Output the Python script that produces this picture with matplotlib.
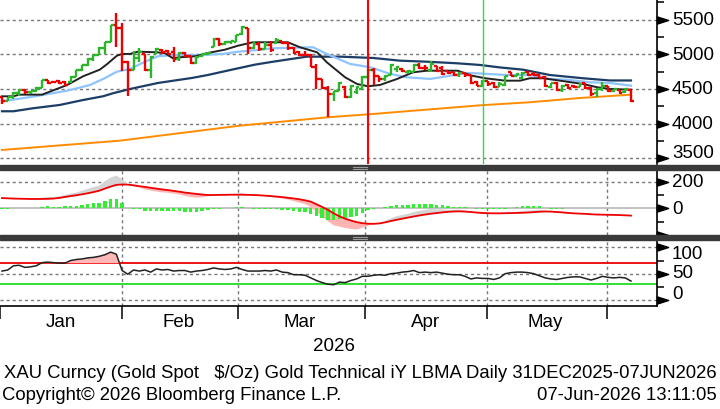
import matplotlib
matplotlib.use("Agg")
import matplotlib.pyplot as plt
import matplotlib.transforms as mtransforms
import numpy as np
from matplotlib.patches import Rectangle
from matplotlib.lines import Line2D
from matplotlib.path import Path

plt.rcParams['font.family'] = ['Liberation Sans', 'DejaVu Sans']

# XAU daily bars, 31 Dec 2025 - 05 Jun 2026 (trading days)
opens = [4380, 4330, 4380, 4440, 4490, 4450, 4465, 4510, 4625, 4600,
         4620, 4600, 4600, 4670, 4770, 4840, 4940, 4990, 5095, 5180,
         5420, 5380, 4890, 4780, 4945, 5000, 4775, 5010, 5070, 5050,
         5040, 4940, 5020, 4970, 4870, 4970, 5000, 5110, 5220, 5150,
         5180, 5180, 5290, 5380, 5090, 5150, 5080, 5140, 5160, 5190,
         5160, 5090, 5030, 4990, 4990, 4820, 4645, 4510, 4430, 4470,
         4530, 4380, 4450, 4500, 4670, 4780, 4690, 4640, 4700, 4790,
         4790, 4745, 4745, 4850, 4810, 4770, 4828, 4800, 4760, 4740,
         4700, 4730, 4700, 4600, 4550, 4620, 4590, 4530, 4560, 4740,
         4690, 4660, 4740, 4720, 4700, 4680, 4530, 4580, 4490, 4560,
         4550, 4530, 4580, 4520, 4440, 4500, 4540, 4470, 4490, 4450,
         4490]
highs = [4389, 4389, 4452, 4500, 4500, 4475, 4524, 4630, 4630, 4620,
         4630, 4620, 4683, 4775, 4851, 4943, 4996, 5102, 5183, 5425,
         5598, 5454, 4900, 5054, 5088, 5006, 4972, 5088, 5078, 5060,
         5102, 5040, 5030, 4972, 4972, 5006, 5030, 5232, 5232, 5198,
         5198, 5280, 5415, 5380, 5198, 5183, 5174, 5198, 5232, 5198,
         5174, 5102, 5054, 5054, 5006, 4861, 4645, 4539, 4476, 4596,
         4545, 4558, 4539, 4683, 4790, 4800, 4692, 4702, 4861, 4837,
         4800, 4770, 4861, 4876, 4846, 4900, 4828, 4828, 4765, 4750,
         4750, 4731, 4700, 4620, 4630, 4620, 4606, 4596, 4693, 4750,
         4731, 4741, 4765, 4750, 4717, 4683, 4587, 4596, 4558, 4572,
         4558, 4587, 4587, 4524, 4510, 4596, 4545, 4500, 4490, 4510,
         4490]
lows = [4283, 4322, 4355, 4403, 4433, 4433, 4452, 4510, 4572, 4590,
        4572, 4548, 4590, 4669, 4765, 4837, 4909, 4985, 5006, 5175,
        5111, 4765, 4403, 4780, 4885, 4765, 4659, 5006, 5006, 5000,
        4885, 4909, 4958, 4861, 4861, 4965, 4990, 5102, 5126, 5140,
        5150, 5174, 5280, 5006, 5078, 5054, 5078, 5030, 5150, 5150,
        5068, 5006, 4972, 4972, 4813, 4500, 4500, 4091, 4331, 4465,
        4365, 4365, 4428, 4500, 4640, 4558, 4606, 4620, 4700, 4741,
        4741, 4717, 4741, 4789, 4779, 4750, 4750, 4702, 4717, 4683,
        4669, 4669, 4572, 4539, 4524, 4539, 4514, 4524, 4548, 4683,
        4683, 4645, 4693, 4693, 4654, 4524, 4510, 4476, 4461, 4500,
        4510, 4524, 4500, 4404, 4380, 4476, 4452, 4461, 4428, 4437,
        4317]
closes = [4320, 4380, 4440, 4490, 4450, 4470, 4510, 4625, 4590, 4595,
          4590, 4560, 4670, 4770, 4840, 4940, 4990, 5095, 5180, 5420,
          5380, 4890, 4780, 4945, 5030, 4775, 4960, 5080, 5030, 5010,
          4940, 5020, 4975, 4870, 4965, 5000, 5025, 5220, 5150, 5185,
          5190, 5275, 5390, 5088, 5150, 5080, 5140, 5060, 5210, 5160,
          5090, 5020, 4990, 4985, 4820, 4645, 4510, 4430, 4470, 4580,
          4380, 4540, 4530, 4670, 4780, 4690, 4640, 4690, 4840, 4820,
          4760, 4760, 4850, 4800, 4800, 4860, 4760, 4720, 4730, 4700,
          4730, 4700, 4590, 4550, 4620, 4572, 4530, 4570, 4683, 4690,
          4720, 4735, 4700, 4700, 4665, 4545, 4580, 4490, 4540, 4510,
          4535, 4575, 4510, 4430, 4500, 4540, 4470, 4495, 4440, 4500,
          4320]

# moving averages (bar index, price)
fast_idx = [0, 2, 3, 7, 11.4, 14.2, 17.1, 18.4, 20.1, 21, 22.4, 23.8, 27.1, 28.5, 29.9,
            31.1, 33.8, 36, 39, 41.3, 43.9, 50, 52.1, 55.1, 56.8, 60, 62.1, 64, 66.1,
            69.1, 71.9, 74.3, 79.7, 82.2, 84.5, 88, 90.6, 92.3, 94.6, 97.6, 101.6,
            104.1, 106.3, 110]
fast_val = [4394, 4394, 4418, 4418, 4558, 4684, 4779, 4861, 4981, 5006, 5006, 5039, 5030,
            5016, 4944, 4958, 4973, 5020, 5068, 5126, 5175, 5175, 5103, 5030, 4886, 4669,
            4572, 4539, 4558, 4645, 4741, 4764, 4764, 4692, 4655, 4620, 4620, 4655, 4655,
            4620, 4572, 4525, 4500, 4490]
mid_idx = [0, 5.4, 11.4, 15.4, 17.7, 20.1, 22.4, 25, 27.3, 30.3, 35, 38.5, 41.3, 44.2,
           47.4, 54.4, 56.8, 60.9, 64.4, 67.9, 70.8, 74.9, 77.8, 81.3, 83.6, 88, 92.3,
           95.8, 98.8, 102.8, 106.3, 110]
mid_val = [4322, 4389, 4475, 4558, 4645, 4750, 4789, 4894, 4973, 4991, 4991, 5006, 5039,
           5059, 5088, 5103, 5006, 4861, 4814, 4717, 4669, 4645, 4684, 4731, 4724, 4702,
           4702, 4645, 4634, 4597, 4587, 4548]
slow_idx = [0, 2, 5.4, 10.1, 14.2, 17.7, 19.4, 22.4, 27.3, 33.2, 36, 40.2, 44.2, 47.4,
            53.3, 59.1, 64.9, 69.6, 74.3, 79.6, 83.6, 87.1, 91.1, 95.8, 101.6, 106.3, 110]
slow_val = [4178, 4178, 4221, 4269, 4341, 4395, 4438, 4500, 4587, 4659, 4702, 4779, 4851,
            4894, 4967, 4967, 4948, 4909, 4894, 4871, 4847, 4811, 4779, 4702, 4655, 4623, 4623]
long_idx = [0, 20.6, 41.6, 57, 64.9, 83.6, 92.3, 101.1, 110]
long_val = [3619, 3753, 3970, 4091, 4139, 4264, 4308, 4370, 4418]

# MACD signal line and histogram
macd_signal = [77, 75, 73, 72, 71, 70, 70, 70, 71, 73,
               78, 85, 92, 98, 105, 113, 122, 132, 148, 163,
               176, 179, 178, 173, 166, 161, 154, 148, 142, 137,
               131, 125, 118, 113, 108, 103, 100, 100, 101, 101,
               102, 102, 102, 101, 100, 98, 95, 92, 88, 84,
               79, 74, 68, 60, 50, 30, 10, -12, -38, -60,
               -78, -92, -104, -112, -116, -117, -114, -106, -96, -87,
               -78, -70, -62, -54, -47, -41, -36, -31, -27, -24,
               -23, -25, -28, -32, -35, -37, -38, -38, -37, -36,
               -35, -34, -32, -29, -26, -24, -25, -28, -31, -35,
               -38, -40, -42, -45, -47, -48, -49, -50, -51, -53,
               -55]
macd_hist = [-5, -2, -1, 0, 1, 2, 4, 10, 15, 12,
             12, 15, 18, 20, 28, 33, 38, 38, 55, 68,
             70, 40, 3, -8, -8, -20, -20, -22, -22, -20,
             -20, -22, -25, -28, -28, -20, -10, -5, -3, 0,
             3, 8, 12, 0, -3, -5, -5, -8, -8, -10,
             -13, -20, -25, -28, -40, -58, -70, -85, -90, -78,
             -70, -63, -55, -35, -15, -3, 3, 12, 20, 28,
             28, 28, 35, 35, 35, 35, 28, 23, 15, 13,
             13, 8, 0, -5, -8, -3, -5, -5, -3, 0,
             8, 15, 15, 15, 15, 5, -3, -2, -2, -1,
             -1, 0, 1, 1, 0, 0, 1, 1, 0, 0,
             -1]

# RSI
rsi = [55, 57, 65, 66, 62, 63, 65, 71, 72, 71,
       70, 70, 75, 77, 78, 80, 81, 83, 86, 91,
       87, 56, 49, 57, 55, 57, 53, 59, 57, 58,
       55, 56, 56, 53, 55, 56, 58, 61, 59, 58,
       59, 62, 58, 55, 55, 55, 56, 55, 57, 53,
       52, 48, 48, 47, 42, 37, 33, 30, 29, 34,
       33, 37, 40, 45, 45, 47, 48, 47, 50, 51,
       53, 54, 56, 52, 53, 52, 53, 51, 49, 48,
       48, 45, 40, 42, 41, 41, 39, 42, 50, 52,
       53, 53, 52, 50, 46, 42, 40, 39, 41, 43,
       44, 44, 41, 38, 41, 45, 43, 42, 43, 42,
       36]

months = ["Jan", "Feb", "Mar", "Apr", "May"]
month_centers = [10.3, 30.8, 52.1, 74.0, 95.0]
month_edges = [21.0, 41.3, 63.5, 84.8, 105.8]

GREEN = '#2cb52c'
RED = '#ee0000'
GRID = dict(color='#777777', lw=1, ls=(0, (2.2, 2.2)))
XLIM = (-0.35, 114.55)
FS = 13.5

fig = plt.figure(figsize=(7.2, 4.1), dpi=100)
ax1 = fig.add_axes([0, 1 - 165 / 410, 657 / 720, 165 / 410])
ax2 = fig.add_axes([0, 1 - 236 / 410, 657 / 720, 65 / 410])
ax3 = fig.add_axes([0, 1 - 307 / 410, 657 / 720, 66 / 410])

tri = Path([(0, -0.32), (0, 0.32), (1, 0), (0, -0.32)],
           [Path.MOVETO, Path.LINETO, Path.LINETO, Path.CLOSEPOLY])


def style_axis(ax, major, labels, label_dy, minor, ylim):
    ax.set_xlim(*XLIM)
    ax.set_ylim(*ylim)
    for s in ['top', 'left', 'bottom']:
        ax.spines[s].set_visible(False)
    ax.spines['right'].set_linewidth(1.2)
    ax.yaxis.tick_right()
    ax.set_yticks(major)
    ax.set_yticks(minor, minor=True)
    ax.tick_params(axis='y', which='major', length=0, labelright=False)
    ax.tick_params(axis='y', which='minor', length=5, width=1.1)
    ax.set_xticks([])
    ax.plot([1] * len(major), major, transform=ax.get_yaxis_transform(), marker=tri,
            ms=16, color='black', ls='none', clip_on=False, zorder=6)
    for v, lab, dy in zip(major, labels, label_dy):
        tr = ax.get_yaxis_transform() + mtransforms.ScaledTranslation(0.15, dy / 100, fig.dpi_scale_trans)
        ax.text(1, v, lab, transform=tr, ha='left', va='center', fontsize=FS, clip_on=False)


# main price panel
x = np.arange(len(closes))
style_axis(ax1, [5500, 5000, 4500, 4000, 3500], ['5500', '5000', '4500', '4000', '3500'],
           [0, 0, 0, 0, 6], [5750, 5250, 4750, 4250, 3750], (3416, 5800))
for v in [5500, 5000, 4500, 4000, 3500]:
    ax1.axhline(v, zorder=0, **GRID)
ax1.plot(long_idx, long_val, color='#ff8c00', lw=1.4, zorder=2)
ax1.plot(slow_idx, slow_val, color='#1c3d66', lw=1.6, zorder=2)
ax1.plot(mid_idx, mid_val, color='#8ec4ff', lw=1.6, zorder=2)
ax1.plot(fast_idx, fast_val, color='#222222', lw=1.4, zorder=2)
cols = [GREEN if c >= o else RED for o, c in zip(opens, closes)]
ax1.vlines(x, lows, highs, colors=cols, lw=1.7, zorder=3)
ax1.hlines(opens, x - 0.5, x, colors=cols, lw=1.7, zorder=3)
ax1.hlines(closes, x, x + 0.5, colors=cols, lw=1.7, zorder=3)
ax1.axvline(64, color='red', lw=1.5, zorder=4)
ax1.axvline(84.1, color='#33dd33', lw=1.0, zorder=4)

# MACD panel
sig = np.array(macd_signal, dtype=float)
hist = np.array(macd_hist, dtype=float)
style_axis(ax2, [200, 0, -200], ['200', '0', ''], [0, 0, 0], [100, -100], (-201, 288))
ax2.axhline(200, zorder=0, **GRID)
for e in month_edges:
    ax2.axvline(e, zorder=0, **GRID)
ax2.axhline(0, color='#bdbdbd', lw=1.3, zorder=1)
ax2.fill_between(x, sig, sig + hist, where=hist >= 0, interpolate=True,
                 color='#d4d4d4', lw=0, zorder=1)
ax2.fill_between(x, sig, sig + hist, where=hist < 0, interpolate=True,
                 color='#ffb4b4', lw=0, zorder=1)
ax2.bar(x, hist, width=0.6, color='#33ee33', zorder=2)
ax2.plot(x, sig, color=RED, lw=1.3, zorder=3)

# RSI panel
r = np.array(rsi, dtype=float)
style_axis(ax3, [100, 50, 0], ['100', '50', '0'], [-6, 1, 6], [75, 25], (-11.4, 114))
ax3.spines['bottom'].set_visible(True)
ax3.spines['bottom'].set_linewidth(1.2)
for v in [100, 50, 0]:
    ax3.axhline(v, zorder=0, **GRID)
for e in month_edges:
    ax3.axvline(e, zorder=0, **GRID)
ax3.axhline(70, color=RED, lw=1.3, zorder=1)
ax3.axhline(30, color='#22dd22', lw=1.3, zorder=1)
ax3.fill_between(x, 70, r, where=r > 70, interpolate=True, color='#ffb8b8', lw=0, zorder=1)
ax3.plot(x, r, color='#222222', lw=1.1, zorder=2)
ax3.set_xticks([XLIM[0]] + month_edges)
ax3.set_xticklabels([])
ax3.tick_params(axis='x', length=9, width=1.1, direction='out')
for m, c in zip(months, month_centers):
    ax3.text(c, -0.24, m, transform=ax3.get_xaxis_transform(), ha='center', va='center', fontsize=FS)
ax3.text(58.1, -0.6, "2026", transform=ax3.get_xaxis_transform(), ha='center', va='center', fontsize=FS)

# panel separators
for top in [166, 236]:
    fig.add_artist(Rectangle((0, 1 - (top + 5) / 410), 1, 5 / 410, transform=fig.transFigure,
                             color='#3a3a3a', zorder=10))
    for dy in [1.5, 3.5]:
        fig.add_artist(Line2D([353 / 720, 367 / 720], [1 - (top + dy) / 410] * 2,
                              transform=fig.transFigure, color='#9a9a9a', lw=0.8, zorder=11))

fig.text(0.005, 1 - 374 / 410, "XAU Curncy (Gold Spot   $/Oz) Gold Technical iY LBMA Daily 31DEC2025-07JUN2026",
         ha='left', va='center', fontsize=13.3)
fig.text(0.003, 1 - 396 / 410, "Copyright\u00a9 2026 Bloomberg Finance L.P.", ha='left', va='center', fontsize=13.3)
fig.text(0.995, 1 - 396 / 410, "07-Jun-2026 13:11:05", ha='right', va='center', fontsize=13.3)

fig.savefig("out.png", dpi=100)
